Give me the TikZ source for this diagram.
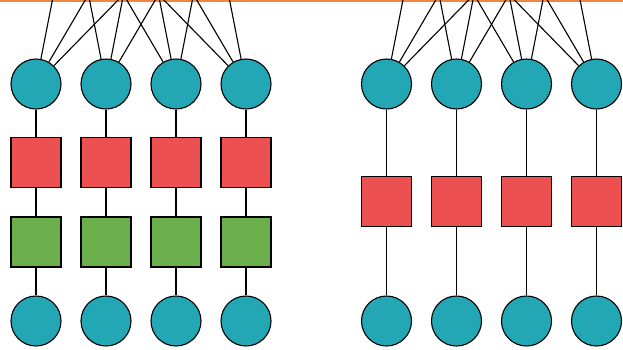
\documentclass[tikz,border=0pt]{standalone}
\definecolor{unitteal}{RGB}{35, 167, 181}
\definecolor{normred}{RGB}{236, 80, 80}
\definecolor{actgreen}{RGB}{108, 176, 78}
\definecolor{barorange}{RGB}{240, 135, 60}
\usepackage{tikz}

\begin{document}
\begin{tikzpicture}[x=1pt, y=-1pt, line width=1.1pt,
    unit/.style={circle, draw=black, fill=unitteal, minimum size=50pt, inner sep=0pt},
    normbox/.style={rectangle, draw=black, fill=normred, minimum size=50pt, inner sep=0pt},
    actbox/.style={rectangle, draw=black, fill=actgreen, minimum size=50pt, inner sep=0pt}]
        \useasboundingbox (0,0) rectangle (623,349);
        \clip (0,0) rectangle (623,349);

        \fill[barorange] (0,0) rectangle (623,2.3);

        % left stack: unit, norm, activation, unit
        \foreach \i/\x in {1/36, 2/106, 3/176, 4/246} {
          \node[unit] (lt\i) at (\x,84) {};
          \node[normbox] (ln\i) at (\x,162.5) {};
          \node[actbox] (la\i) at (\x,242) {};
          \node[unit] (lb\i) at (\x,321) {};
          \draw (lt\i) -- (ln\i);
          \draw (ln\i) -- (la\i);
          \draw (la\i) -- (lb\i);
        }
        \foreach \j/\x in {1/71, 2/141, 3/211}
          \coordinate (lin\j) at (\x,-95);
        \foreach \i in {1,...,4}
          \foreach \j in {1,2,3}
            \draw (lt\i) -- (lin\j);

        % right stack: unit, norm, unit
        \foreach \i/\x in {1/386.5, 2/456.5, 3/526.5, 4/596.5} {
          \node[unit] (rt\i) at (\x,84) {};
          \node[normbox] (rn\i) at (\x,201.5) {};
          \node[unit] (rb\i) at (\x,321) {};
          \draw (rt\i) -- (rn\i);
          \draw (rn\i) -- (rb\i);
        }
        \foreach \j/\x in {1/421.5, 2/491.5, 3/561.5}
          \coordinate (rin\j) at (\x,-95);
        \foreach \i in {1,...,4}
          \foreach \j in {1,2,3}
            \draw (rt\i) -- (rin\j);
      \end{tikzpicture}
\end{document}
